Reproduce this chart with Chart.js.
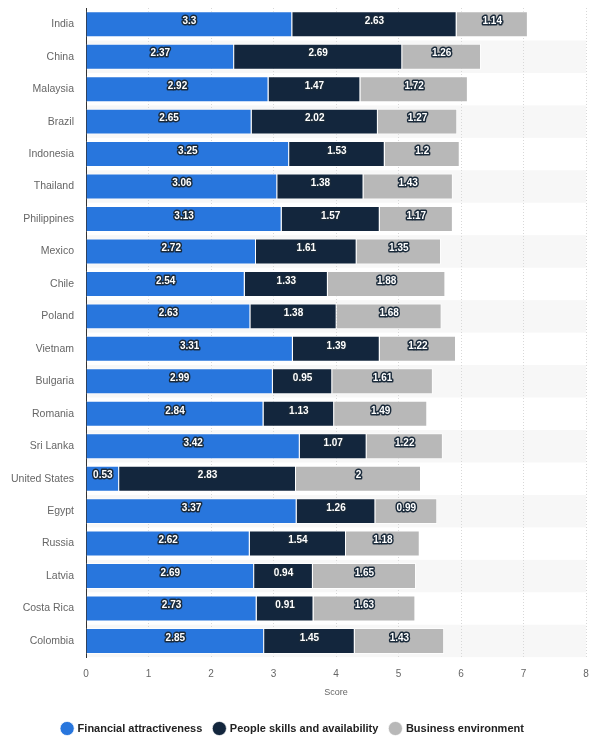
<!DOCTYPE html>
<html>
<head>
<meta charset="utf-8">
<script src="https://cdn.jsdelivr.net/npm/chart.js@4"></script>
<style>
  html, body { margin: 0; padding: 0; background: #fff; }
  #wrap { width: 600px; height: 744px; }
</style>
</head>
<body>
<div id="wrap"><canvas id="chart" width="600" height="744"></canvas></div>
<script>
// === Chart data ===
const countries = ["India", "China", "Malaysia", "Brazil", "Indonesia", "Thailand", "Philippines", "Mexico", "Chile", "Poland",
    "Vietnam", "Bulgaria", "Romania", "Sri Lanka", "United States", "Egypt", "Russia", "Latvia", "Costa Rica", "Colombia"];
const financial = [3.3, 2.37, 2.92, 2.65, 3.25, 3.06, 3.13, 2.72, 2.54, 2.63, 3.31, 2.99, 2.84, 3.42, 0.53, 3.37, 2.62, 2.69, 2.73, 2.85];
const people = [2.63, 2.69, 1.47, 2.02, 1.53, 1.38, 1.57, 1.61, 1.33, 1.38, 1.39, 0.95, 1.13, 1.07, 2.83, 1.26, 1.54, 0.94, 0.91, 1.45];
const business = [1.14, 1.26, 1.72, 1.27, 1.2, 1.43, 1.17, 1.35, 1.88, 1.68, 1.22, 1.61, 1.49, 1.22, 2, 0.99, 1.18, 1.65, 1.63, 1.43];
const seriesNames = ["Financial attractiveness", "People skills and availability", "Business environment"];
const xTicks = [0, 1, 2, 3, 4, 5, 6, 7, 8];

const FONT = "'Liberation Sans', Arial, sans-serif";

// striped row backgrounds
const bandPlugin = {
    id: "bands",
    beforeDraw(chart) {
        const { ctx, chartArea, scales } = chart;
        const y = scales.y;
        ctx.save();
        ctx.fillStyle = "#f7f7f7";
        countries.forEach((c, i) => {
            if (i % 2 === 1) {
                const top = y.getPixelForValue(i - 0.5);
                const bot = y.getPixelForValue(i + 0.5);
                ctx.fillRect(chartArea.left, top, chartArea.right - chartArea.left, bot - top);
            }
        });
        ctx.restore();
    }
};

// white outlined value labels
const labelPlugin = {
    id: "valueLabels",
    afterDatasetsDraw(chart) {
        const ctx = chart.ctx;
        ctx.save();
        ctx.font = "bold 10px " + FONT;
        ctx.textAlign = "center";
        ctx.textBaseline = "middle";
        ctx.lineJoin = "round";
        chart.data.datasets.forEach((ds, di) => {
            const meta = chart.getDatasetMeta(di);
            meta.data.forEach((bar, i) => {
                const v = ds.data[i];
                const x = (bar.x + bar.base) / 2;
                const y = bar.y - 3;
                ctx.lineWidth = 3;
                ctx.strokeStyle = "#1a2a3a";
                ctx.strokeText(String(v), x, y);
                ctx.fillStyle = "#ffffff";
                ctx.fillText(String(v), x, y);
            });
        });
        ctx.restore();
    }
};

new Chart(document.getElementById("chart").getContext("2d"), {
    type: "bar",
    data: {
        labels: countries,
        datasets: [
            { label: seriesNames[0], data: financial, backgroundColor: "#2876dd" },
            { label: seriesNames[1], data: people, backgroundColor: "#13263d" },
            { label: seriesNames[2], data: business, backgroundColor: "#b8b8b8" }
        ].map(d => Object.assign(d, {
            borderColor: "rgba(255,255,255,0.7)",
            borderWidth: 1,
            categoryPercentage: 0.8,
            barPercentage: 1
        }))
    },
    options: {
        indexAxis: "y",
        responsive: false,
        animation: false,
        layout: { padding: { left: 0, right: 14, top: 8, bottom: 0 } },
        scales: {
            x: {
                stacked: true,
                min: 0,
                max: 8,
                afterBuildTicks(axis) { axis.ticks = xTicks.map(v => ({ value: v })); },
                ticks: { color: "#666", font: { family: FONT, size: 10 }, padding: 11 },
                grid: { color: "#d8d8d8", drawTicks: false },
                border: { display: false, dash: [1, 2] },
                title: { display: true, text: "Score", color: "#666", font: { family: FONT, size: 9 }, padding: { top: -4, bottom: 13 } }
            },
            y: {
                stacked: true,
                afterFit(axis) {
                    axis.width = 86;
                    axis.paddingTop = 0;
                    axis.paddingBottom = 0;
                },
                ticks: { color: "#666", font: { family: FONT, size: 10.5 }, padding: 4 },
                grid: { display: false },
                border: { display: true, color: "#333", width: 1 }
            }
        },
        plugins: {
            legend: {
                position: "bottom",
                labels: {
                    usePointStyle: true,
                    pointStyle: "circle",
                    boxWidth: 10,
                    boxHeight: 10,
                    padding: 12,
                    color: "#222",
                    font: { family: FONT, size: 11, weight: "bold" }
                }
            },
            tooltip: { enabled: false }
        }
    },
    plugins: [bandPlugin, labelPlugin]
});
</script>
</body>
</html>
